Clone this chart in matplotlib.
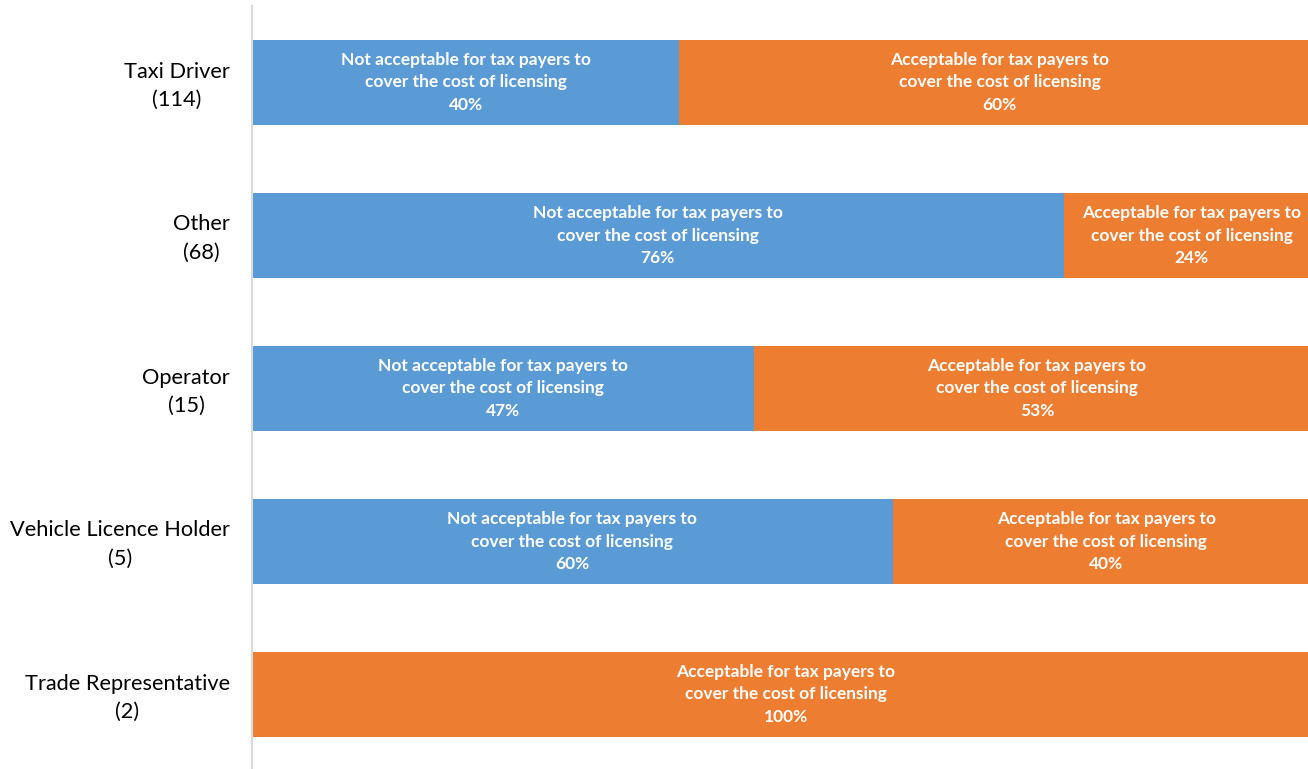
import matplotlib.pyplot as plt
import matplotlib.transforms as mtransforms

# Survey responses by respondent type
categories = ["Taxi Driver\n(114)", "Other\n(68)", "Operator\n(15)",
              "Vehicle Licence Holder\n(5)", "Trade Representative\n(2)"]
not_acceptable = [40, 76, 47, 60, 0]
acceptable = [60, 24, 53, 40, 100]

seg_text_no = "Not acceptable for tax payers to\ncover the cost of licensing"
seg_text_yes = "Acceptable for tax payers to\ncover the cost of licensing"

blue = "#5B9BD5"
orange = "#ED7D31"

plt.rcParams['font.family'] = ['Lato', 'DejaVu Sans']

fig = plt.figure(figsize=(13.08, 7.69), dpi=100)
# plot area runs a little past the right edge of the figure
ax = fig.add_axes([252 / 1308, -2 / 769, 1068 / 1308, 765 / 769])

ypos = list(range(len(categories)))
ax.barh(ypos, not_acceptable, height=0.556, color=blue)
ax.barh(ypos, acceptable, left=not_acceptable, height=0.556, color=orange)

for y, n, a in zip(ypos, not_acceptable, acceptable):
    if n > 0:
        ax.text(n / 2, y, f"{seg_text_no}\n{n}%", ha='center', va='center',
                color='white', fontsize=12.5, fontweight='bold', linespacing=1.5)
    if a > 0:
        ax.text(n + a / 2, y, f"{seg_text_yes}\n{a}%", ha='center', va='center',
                color='white', fontsize=12.5, fontweight='bold', linespacing=1.5)

ax.set_xlim(0, 100)
ax.set_ylim(len(categories) - 0.5, -0.5)
ax.set_yticks(ypos)
ax.set_yticklabels(categories, fontsize=15.7, ha='right', multialignment='center',
                   linespacing=1.55)
ax.tick_params(axis='y', length=0, pad=16)
ax.set_xticks([])

# nudge the category labels up a little
shift = mtransforms.ScaledTranslation(0, 3 / 100, fig.dpi_scale_trans)
for lbl in ax.get_yticklabels():
    lbl.set_transform(lbl.get_transform() + shift)

for side in ['top', 'right', 'bottom']:
    ax.spines[side].set_visible(False)
ax.spines['left'].set_color('#D9D9D9')
ax.spines['left'].set_linewidth(1.5)

fig.savefig("out.png", dpi=100)
